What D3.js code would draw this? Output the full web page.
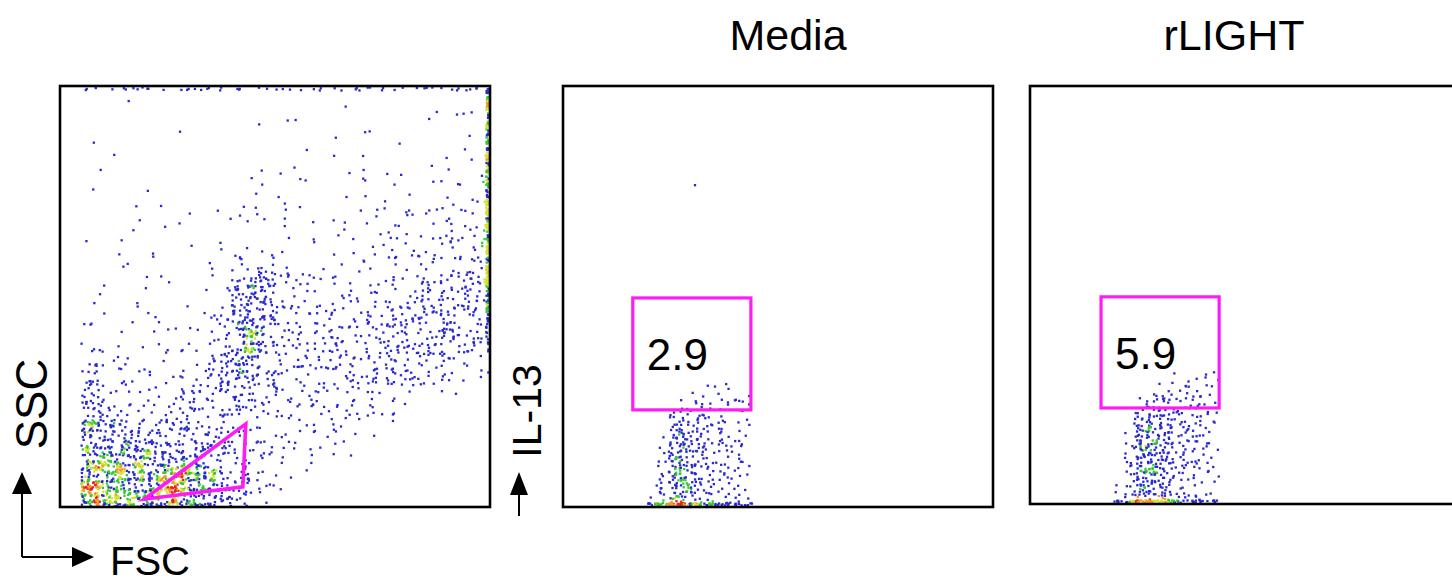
<!DOCTYPE html>
<html><head><meta charset="utf-8">
<script src="https://cdn.jsdelivr.net/npm/d3@7"></script>
<style>
body{margin:0;background:#fff}
svg{display:block}
text{font-family:"Liberation Sans",Arial,Helvetica,sans-serif;fill:#000}
</style>
</head><body>
<svg id="c" width="1452" height="584"></svg>
<script>
// ===================== DATA =====================
const panelTitles = ["Media", "rLIGHT"];
const gateValues = ["2.9", "5.9"];
const xAxisLabel = "FSC";
const yAxisLabel = "SSC";
const y2AxisLabel = "IL-13";
const channelMax = 1023;

// Panel 1 (FSC vs SSC): event counts in a 20 x 20 grid of channel bins (51.15 channels each),
// rows listed from the top (high SSC) to the bottom (low SSC), columns from low to high FSC.
const scatterBinsTopDown = [
  [0,0,0,1,0,0,0,0,0,0,0,0,0,1,0,0,0,0,0,0],
  [0,0,0,0,0,0,0,0,0,1,2,0,0,0,0,0,0,2,2,1],
  [0,1,0,0,0,1,0,0,0,0,0,0,1,0,2,1,0,0,0,1],
  [0,1,1,0,0,0,0,0,0,0,1,1,1,0,2,0,0,2,2,2],
  [0,1,0,0,1,0,0,0,1,2,1,2,0,1,2,3,0,2,2,2],
  [0,0,0,1,1,0,0,1,1,2,3,1,0,2,2,2,2,3,4,4],
  [0,0,0,2,1,1,1,1,2,2,2,1,1,2,2,3,3,3,4,5],
  [0,1,2,0,1,0,1,2,1,1,2,2,1,2,3,4,4,5,6,7],
  [0,0,1,1,1,0,1,2,7,11,3,2,2,2,3,4,5,6,8,9],
  [0,1,1,1,2,1,1,2,22,26,6,5,4,4,5,6,8,11,13,15],
  [0,1,1,2,2,1,1,3,28,26,8,6,6,5,7,9,11,13,14,13],
  [0,3,1,1,2,2,2,9,38,22,8,7,8,8,10,13,14,15,14,11],
  [0,5,2,2,2,3,3,12,38,18,8,8,9,9,10,13,14,14,11,7],
  [0,9,3,3,3,4,6,16,30,12,8,8,8,8,9,11,11,9,5,2],
  [0,17,6,4,5,6,10,16,16,8,7,7,7,7,7,6,4,2,1,0],
  [0,25,10,8,8,9,10,10,8,7,6,6,6,6,5,3,1,0,0,0],
  [0,35,24,19,17,16,14,10,8,6,5,5,5,3,1,0,0,0,0,0],
  [0,46,42,36,31,26,20,15,10,6,4,3,2,1,0,0,0,0,0,0],
  [0,58,52,48,44,70,42,28,16,6,2,1,0,0,0,0,0,0,0,0],
  [0,88,58,52,48,72,46,24,10,3,1,0,0,0,0,0,0,0,0,0]
];
// events piled on the SSC maximum (per FSC bin) and on the FSC maximum (per SSC bin, bottom to top)
const scatterTopEdge   = [0,3,2,4,3,3,4,2,3,2,3,2,3,4,3,3,2,3,4,3];
const scatterRightEdge = [0,0,0,0,0,0,1,4,8,14,20,22,24,24,24,24,24,22,22,26];
// lymphocyte gate (FSC, SSC channels)
const scatterGateFSC = [200, 442, 435];
const scatterGateSSC = [19, 202, 49];

// IL-13 panels: counts in bins of 25 channels (x, from channel 200) by 20 channels (IL-13, from 0),
// rows listed from the bottom up.
const mediaBins = [
  [1,3,6,6,4,3,2,2,2,1],
  [1,3,6,7,4,3,2,2,2,1],
  [1,3,7,7,4,3,2,2,2,1],
  [0,2,7,7,5,3,2,2,2,1],
  [0,2,7,7,5,3,2,2,2,1],
  [0,2,6,7,5,3,2,2,2,1],
  [0,1,6,7,5,3,2,2,2,0],
  [0,1,5,7,4,3,2,2,2,1],
  [0,1,5,6,4,3,2,2,2,1],
  [0,0,4,6,4,3,2,2,1,1],
  [0,0,3,5,3,2,2,2,1,1],
  [0,0,2,4,3,2,2,1,1,1],
  [0,0,0,1,2,2,1,2,2,2],
  [0,0,0,0,1,1,1,1,1,1],
  [0,0,0,0,0,1,1,2,0,0],
  [0,0,0,0,0,0,0,0,0,0]
];
const mediaFloor = [5,10,14,14,12,9,7,6,5,4];   // events piled at IL-13 = 0
const mediaOutlierX = [314];
const mediaOutlierY = [782];
const mediaGate = [166, 447, 236, 508];          // x from, x to, IL-13 from, IL-13 to

const rlightBins = [
  [1,3,6,7,5,3,2,2,1,1],
  [1,3,7,7,5,3,2,2,1,1],
  [1,3,7,7,5,3,2,2,1,1],
  [0,3,7,8,5,3,2,2,1,1],
  [0,3,7,8,6,3,3,2,2,1],
  [0,2,7,8,6,4,3,2,2,1],
  [0,2,7,8,6,4,3,2,2,1],
  [0,2,7,8,6,4,3,3,2,1],
  [0,1,6,8,5,4,3,3,2,1],
  [0,1,5,7,5,4,3,3,2,1],
  [0,0,4,7,5,4,3,2,2,1],
  [0,0,3,5,4,3,3,2,2,1],
  [0,0,1,3,4,3,2,3,2,1],
  [0,0,0,1,2,2,2,2,2,1],
  [0,0,0,0,1,1,2,2,1,1],
  [0,0,0,0,0,1,0,1,2,1],
  [0,0,0,0,0,0,0,0,0,1]
];
const rlightFloor = [6,10,14,14,12,8,6,5,5,4];
const rlightGate = [169, 450, 235, 507];

// ===================== RENDERING =====================
const svg = d3.select("#c");
const palette = ["#2a2acc", "#36c636", "#d4e034", "#f29a28", "#e8231f"];
const levelThresholds = [0.095, 0.13, 0.165, 0.195];   // local events per px² -> colour level

// deterministic hash used only to spread a bin's counted events inside that bin
function hash01(a) {
  a = (a ^ 61) ^ (a >>> 16); a = a + (a << 3); a = a ^ (a >>> 4);
  a = Math.imul(a, 0x27d4eb2d); a = a ^ (a >>> 15);
  return (a >>> 0) / 4294967296;
}
function binEvents(grid, x0, dx, y0, dy, seed) {
  const ev = [];
  grid.forEach((row, j) => row.forEach((n, i) => {
    const id = seed + j * row.length + i;
    for (let k = 0; k < n; k++) {
      ev.push({x: x0 + (i + hash01(id * 7919 + k * 2 + 1)) * dx,
               y: y0 + (j + hash01(id * 7919 + k * 2 + 2)) * dy,
               ord: hash01(id * 7919 + k * 2 + 3)});
    }
  }));
  return ev;
}

function drawPanel(o) {
  const xs = d3.scaleLinear().domain([0, channelMax]).range([o.left, o.right]);
  const ys = d3.scaleLinear().domain([0, channelMax]).range([o.bottom, o.top]);
  const g = svg.append("g");
  const cid = "clip" + o.key;
  svg.append("clipPath").attr("id", cid).append("rect")
    .attr("x", o.left).attr("y", o.top).attr("width", o.right - o.left).attr("height", o.bottom - o.top);
  let ev = [];
  o.sets.forEach(s => { ev = ev.concat(s); });
  // local density (pseudo-colour) from 2px bins, 10x10 px window
  const bs = 2, nx = Math.ceil((o.right - o.left) / bs) + 1, ny = Math.ceil((o.bottom - o.top) / bs) + 1;
  const cnt = new Float32Array(nx * ny);
  ev.forEach(d => {
    d.px = xs(d.x); d.py = ys(d.y);
    d.i = Math.max(0, Math.min(nx - 1, Math.floor((d.px - o.left) / bs)));
    d.j = Math.max(0, Math.min(ny - 1, Math.floor((d.py - o.top) / bs)));
    cnt[d.j * nx + d.i]++;
  });
  ev.forEach(d => {
    let s = 0;
    for (let a = -2; a <= 2; a++) for (let b = -2; b <= 2; b++) {
      const ii = d.i + a, jj = d.j + b;
      if (ii >= 0 && ii < nx && jj >= 0 && jj < ny) s += cnt[jj * nx + ii];
    }
    const dens = s / 100;
    d.level = levelThresholds.filter(t => dens >= t).length;
  });
  // acquisition order: events interleave, so colours mix
  ev.sort((a, b) => (a.ord || 0) - (b.ord || 0));
  const ds = 2.3;
  g.append("g").attr("clip-path", `url(#${cid})`)
    .selectAll("rect").data(ev).join("rect")
    .attr("x", d => d.px - ds / 2).attr("y", d => d.py - ds / 2)
    .attr("width", ds).attr("height", ds)
    .attr("fill", d => palette[d.level]);
  g.append("rect").attr("x", o.left).attr("y", o.top)
    .attr("width", o.right - o.left).attr("height", o.bottom - o.top)
    .attr("fill", "none").attr("stroke", "#000").attr("stroke-width", 2.6);
  return {g, xs, ys};
}

// ---- Panel 1: FSC / SSC ----
const bw = channelMax / 20;
const P1 = drawPanel({
  key: 1, left: 60, right: 490, top: 86, bottom: 507,
  sets: [
    binEvents(scatterBinsTopDown.slice().reverse(), 0, bw, 0, bw, 0),
    binEvents([scatterTopEdge], 0, bw, 1012, 8, 500),
    binEvents(scatterRightEdge.map(c => [c]), 1014, 6, 0, bw, 600)
  ]
});
P1.g.append("path")
  .attr("d", "M" + scatterGateFSC.map((v, i) => [P1.xs(v), P1.ys(scatterGateSSC[i])].join(",")).join("L") + "Z")
  .attr("fill", "none").attr("stroke", "#ff1cf4").attr("stroke-width", 3.6).attr("stroke-linejoin", "miter");

// ---- Panels 2 & 3: IL-13 ----
function il13Panel(key, left, bottom, bins, floor, gate, label, extra) {
  const sets = [
    binEvents(bins, 200, 25, 0, 20, key * 1000),
    binEvents([floor], 200, 25, 3, 6, key * 1000 + 400)
  ];
  if (extra) sets.push(extra);
  const P = drawPanel({key, left, right: left + 430, top: 86, bottom, sets});
  const gx = P.xs(gate[0]), gx2 = P.xs(gate[1]), gy = P.ys(gate[3]), gy2 = P.ys(gate[2]);
  P.g.append("rect").attr("x", gx).attr("y", gy).attr("width", gx2 - gx).attr("height", gy2 - gy)
    .attr("fill", "none").attr("stroke", "#ff1cf4").attr("stroke-width", 3.2);
  P.g.append("text").attr("x", gx + 14).attr("y", gy + 72)
    .attr("font-size", 44).text(label);
  return P;
}
const outliers = mediaOutlierX.map((x, i) => ({x, y: mediaOutlierY[i]}));
il13Panel(2, 563, 507, mediaBins, mediaFloor, mediaGate, gateValues[0], outliers);
il13Panel(3, 1030, 504, rlightBins, rlightFloor, rlightGate, gateValues[1]);

// ---- Titles ----
svg.append("text").attr("x", 788).attr("y", 50).attr("text-anchor", "middle")
  .attr("font-size", 43).text(panelTitles[0]);
svg.append("text").attr("x", 1234).attr("y", 50).attr("text-anchor", "middle")
  .attr("font-size", 43).text(panelTitles[1]);

// ---- Axis labels & arrows ----
svg.append("text").attr("transform", "translate(47,404) rotate(-90)").attr("text-anchor", "middle")
  .attr("font-size", 44).text(yAxisLabel);
svg.append("text").attr("x", 110).attr("y", 575).attr("font-size", 40).text(xAxisLabel);
svg.append("text").attr("transform", "translate(541,411) rotate(-90)").attr("text-anchor", "middle")
  .attr("font-size", 41).text(y2AxisLabel);

const arrows = svg.append("g");
arrows.append("path").attr("d", "M22,557V492M22,557H74").attr("fill", "none")
  .attr("stroke", "#000").attr("stroke-width", 2);
arrows.append("path").attr("d", "M22,472L12,494L32,494Z").attr("fill", "#000");
arrows.append("path").attr("d", "M94,557L72,547L72,567Z").attr("fill", "#000");
arrows.append("path").attr("d", "M519,516V493").attr("stroke", "#000").attr("stroke-width", 2);
arrows.append("path").attr("d", "M519,472L510,495L528,495Z").attr("fill", "#000");
</script>
</body></html>
